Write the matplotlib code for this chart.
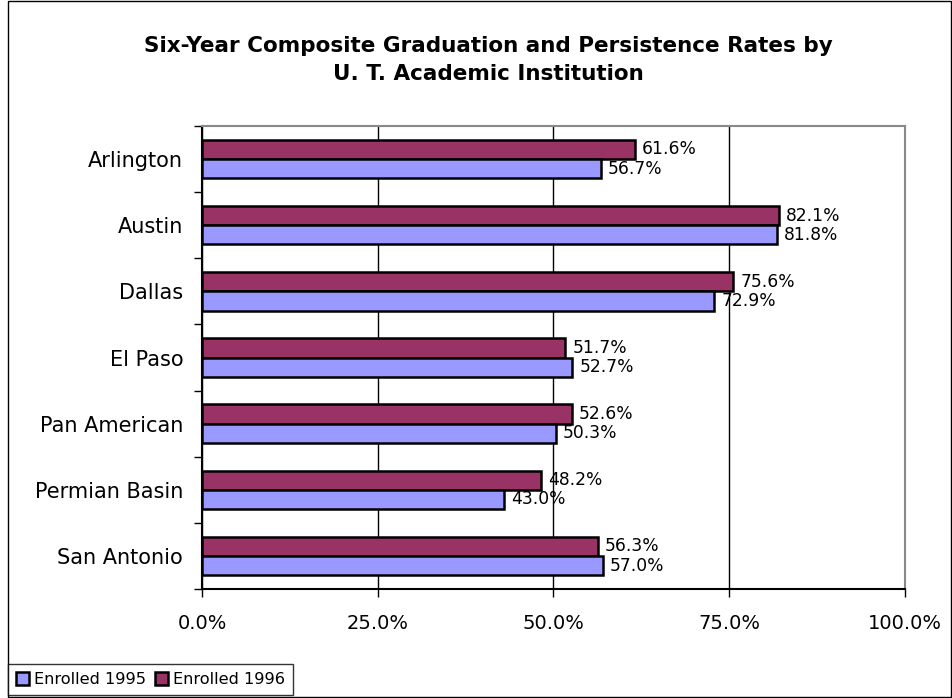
import numpy as np
import matplotlib.pyplot as plt
from matplotlib.patches import Rectangle

# Daten
institutions = ['Arlington', 'Austin', 'Dallas', 'El Paso', 'Pan American',
                'Permian Basin', 'San Antonio']
enrolled_1995 = [56.7, 81.8, 72.9, 52.7, 50.3, 43.0, 57.0]
enrolled_1996 = [61.6, 82.1, 75.6, 51.7, 52.6, 48.2, 56.3]
xticks = [0, 25, 50, 75, 100]

fig = plt.figure(figsize=(9.53, 6.98), dpi=100)
ax = fig.add_axes([202 / 953, 1 - 589 / 698, (905 - 202) / 953, (589 - 126) / 698])

pos = np.arange(len(institutions))
h = 0.29
ax.barh(pos - h / 2, enrolled_1996, height=h, color='#993366', edgecolor='black',
        linewidth=1.8, label='Enrolled 1996', zorder=3)
ax.barh(pos + h / 2, enrolled_1995, height=h, color='#9999FF', edgecolor='black',
        linewidth=1.8, label='Enrolled 1995', zorder=3)

for i in range(len(institutions)):
    ax.annotate('%.1f%%' % enrolled_1996[i], (enrolled_1996[i], pos[i] - h / 2),
                xytext=(5, 0), textcoords='offset points', va='center', ha='left',
                fontsize=12.3, zorder=4)
    ax.annotate('%.1f%%' % enrolled_1995[i], (enrolled_1995[i], pos[i] + h / 2),
                xytext=(5, 0), textcoords='offset points', va='center', ha='left',
                fontsize=12.3, zorder=4)

ax.set_ylim(len(institutions) - 0.5, -0.5)
ax.set_xlim(0, 100)
ax.set_yticks(pos)
ax.set_yticklabels(institutions, fontsize=15)
ax.set_yticks(np.arange(len(institutions) + 1) - 0.5, minor=True)
ax.tick_params(axis='y', which='major', length=0, pad=13.5)
ax.tick_params(axis='y', which='minor', length=6, width=1, direction='out')
ax.set_xticks(xticks)
ax.set_xticklabels(['%.1f%%' % v for v in xticks], fontsize=14)
ax.tick_params(axis='x', length=6, width=1, direction='out', pad=12)

ax.grid(axis='x', color='black', linewidth=1, zorder=0)
ax.spines['left'].set_color('black')
ax.spines['bottom'].set_color('black')
ax.spines['left'].set_linewidth(1.5)
ax.spines['bottom'].set_linewidth(1.5)
ax.spines['top'].set_color('#888888')
ax.spines['right'].set_color('#888888')
ax.spines['top'].set_linewidth(1.5)
ax.spines['right'].set_linewidth(1.5)

fig.text(488 / 953, 1 - 60 / 698,
         'Six-Year Composite Graduation and Persistence Rates by\nU. T. Academic Institution',
         ha='center', va='center', fontsize=15.5, fontweight='bold', linespacing=1.55)

# Rahmen um die Grafik
fig.patches.append(Rectangle((8 / 953, 0.002), 943 / 953, 0.996, transform=fig.transFigure,
                             fill=False, edgecolor='black', linewidth=1))

handles, labels = ax.get_legend_handles_labels()
leg = fig.legend(handles[::-1], labels[::-1], loc='lower left',
                 bbox_to_anchor=(8 / 953, 3 / 698), ncol=2, fontsize=11.6,
                 frameon=True, fancybox=False, edgecolor='black', handlelength=0.8,
                 handleheight=0.8, handletextpad=0.3, columnspacing=0.6,
                 borderpad=0.5, borderaxespad=0)
leg.get_frame().set_linewidth(1)

plt.savefig('out.png', dpi=100)
